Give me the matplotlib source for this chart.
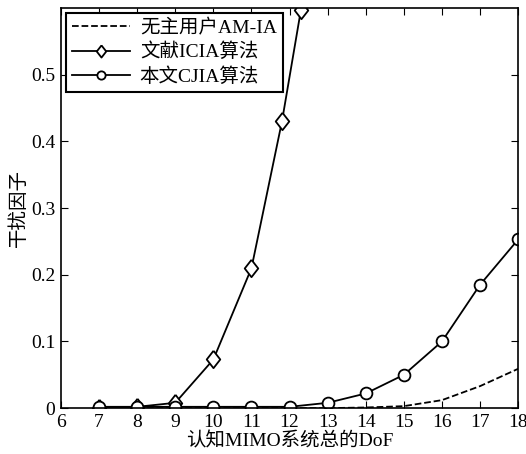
import matplotlib
matplotlib.use('Agg')
import matplotlib.pyplot as plt
import numpy as np

plt.rcParams['font.family'] = ['Liberation Serif', 'Noto Sans CJK SC']
plt.rcParams['axes.unicode_minus'] = False

# data
dof = [7, 8, 9, 10, 11, 12, 13, 14, 15, 16, 17, 18]
am_ia = [0, 0, 0, 0, 0, 0, 0.0, 0.001, 0.003, 0.012, 0.033, 0.059]
icia_dof = [7, 8, 9, 10, 11, 11.8, 12.3]
icia = [0.0, 0.002, 0.008, 0.073, 0.21, 0.43, 0.598]
cjia = [0.002, 0.002, 0.002, 0.002, 0.002, 0.002, 0.008, 0.022, 0.05, 0.1, 0.185, 0.253]

labels = ['无主用户AM-IA', '文献ICIA算法', '本文CJIA算法']
xticks = np.arange(6, 19, 1)
yticks = [0, 0.1, 0.2, 0.3, 0.4, 0.5]
ytick_labels = ['0', '0.1', '0.2', '0.3', '0.4', '0.5']

# matlab-like diamond, a bit taller than wide
diamond = [(0, 1), (0.78, 0), (0, -1), (-0.78, 0), (0, 1)]

fig = plt.figure(figsize=(5.26, 4.54), dpi=100)
ax = fig.add_axes([0.116, 0.101, 0.869, 0.881])

ax.plot(dof, am_ia, 'k--', lw=1.3, label=labels[0])
ax.plot(icia_dof, icia, 'k-', lw=1.3, marker=diamond, markersize=12.5, markerfacecolor='white',
        markeredgecolor='k', markeredgewidth=1.3, label=labels[1])
ax.plot(dof, cjia, 'k-', lw=1.3, marker='o', markersize=8.5, markerfacecolor='white',
        markeredgecolor='k', markeredgewidth=1.3, label=labels[2])

ax.set_xlim(6, 18)
ax.set_ylim(0, 0.6)
ax.set_xticks(xticks)
ax.set_yticks(yticks)
ax.set_yticklabels(ytick_labels)
ax.tick_params(direction='in', top=True, right=True, labelsize=14, length=5, pad=4)
for s in ax.spines.values():
    s.set_linewidth(1.2)

ax.set_xlabel('认知MIMO系统总的DoF', fontsize=14, labelpad=1)
ax.set_ylabel('干扰因子', fontsize=14, labelpad=2)

leg = ax.legend(loc='upper left', fontsize=14, frameon=True, fancybox=False,
                edgecolor='k', framealpha=1, borderpad=0.3, labelspacing=0.3,
                handlelength=3.0, handletextpad=0.5, borderaxespad=0.25,
                markerscale=0.7)
leg.get_frame().set_linewidth(1.5)

fig.savefig('out.png', dpi=100)
plt.close()
